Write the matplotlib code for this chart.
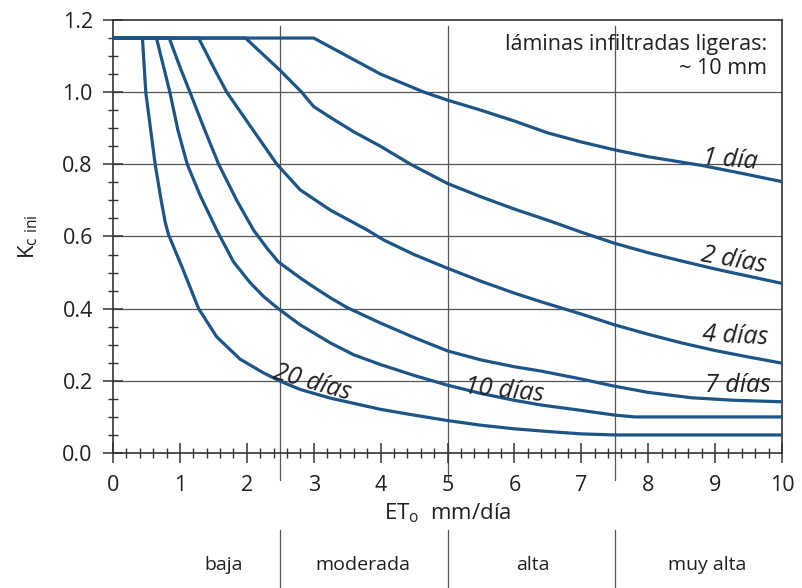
import matplotlib
matplotlib.use("Agg")
import matplotlib.pyplot as plt
from matplotlib.ticker import MultipleLocator

plt.rcParams['font.family'] = ['Open Sans', 'DejaVu Sans']
plt.rcParams['mathtext.fontset'] = 'custom'
plt.rcParams['mathtext.rm'] = 'Open Sans'

# ---- data ----
x_1 = [0, 3.0, 3.5, 4.0, 4.65, 5.0, 5.5, 6.0, 6.5, 7.0, 7.5, 8.0, 8.8, 9.4, 10]
y_1 = [1.15, 1.15, 1.10, 1.05, 1.0, 0.978, 0.95, 0.92, 0.887, 0.862, 0.84, 0.821, 0.797, 0.775, 0.752]

x_2 = [0, 1.98, 2.5, 2.82, 3.0, 3.25, 3.6, 4.0, 4.45, 5.0, 5.5, 6.0, 6.5, 7.0, 7.5, 8.0, 8.5, 9.0, 9.5, 10]
y_2 = [1.15, 1.15, 1.06, 1.0, 0.96, 0.93, 0.89, 0.85, 0.80, 0.747, 0.71, 0.676, 0.645, 0.612, 0.581,
       0.555, 0.532, 0.51, 0.49, 0.47]

x_4 = [0, 1.28, 1.5, 1.70, 2.0, 2.45, 2.8, 3.25, 3.8, 4.05, 4.5, 5.0, 5.5, 6.0, 6.4, 7.0, 7.5, 8.0,
       8.5, 9.0, 9.5, 10]
y_4 = [1.15, 1.15, 1.07, 1.0, 0.92, 0.80, 0.729, 0.673, 0.618, 0.59, 0.55, 0.512, 0.476, 0.443,
       0.419, 0.385, 0.355, 0.329, 0.305, 0.284, 0.266, 0.249]

x_7 = [0, 0.84, 1.0, 1.15, 1.35, 1.58, 1.85, 2.10, 2.3, 2.47, 2.8, 3.0, 3.25, 3.5, 4.0, 4.5, 5.0,
       5.5, 6.0, 6.4, 7.0, 7.5, 8.0, 8.65, 9.3, 10]
y_7 = [1.15, 1.15, 1.07, 1.0, 0.905, 0.80, 0.70, 0.618, 0.568, 0.53, 0.485, 0.46, 0.43, 0.403, 0.36,
       0.32, 0.283, 0.258, 0.239, 0.227, 0.205, 0.185, 0.168, 0.153, 0.146, 0.142]

x_10 = [0, 0.65, 0.85, 0.97, 1.11, 1.3, 1.55, 1.80, 2.05, 2.25, 2.47, 2.8, 3.25, 3.6, 4.0, 4.5, 5.0,
        5.5, 6.0, 6.4, 7.0, 7.5, 7.8, 10]
y_10 = [1.15, 1.15, 1.0, 0.895, 0.80, 0.715, 0.618, 0.530, 0.472, 0.434, 0.40, 0.355, 0.305, 0.272,
        0.245, 0.215, 0.188, 0.165, 0.146, 0.133, 0.118, 0.105, 0.10, 0.10]

x_20 = [0, 0.44, 0.49, 0.56, 0.63, 0.72, 0.78, 0.83, 0.92, 1.05, 1.28, 1.55, 1.90, 2.25, 2.5, 2.8,
        3.25, 4.0, 4.5, 5.0, 5.5, 6.0, 6.54, 7.0, 7.5, 10]
y_20 = [1.15, 1.15, 1.0, 0.9, 0.80, 0.70, 0.64, 0.605, 0.565, 0.507, 0.40, 0.322, 0.26, 0.222,
        0.199, 0.176, 0.152, 0.121, 0.105, 0.09, 0.077, 0.067, 0.059, 0.053, 0.05, 0.05]

curve_labels = ['1 día', '2 días', '4 días', '7 días', '10 días', '20 días']
categories = ['baja', 'moderada', 'alta', 'muy alta']
category_bounds = [2.5, 5.0, 7.5]

# ---- layout / style ----
label_pos = [(9.22, 0.812, -5), (9.28, 0.535, -10), (9.30, 0.324, -3),
             (9.34, 0.188, 0), (5.85, 0.172, -6), (2.97, 0.195, -16)]
category_x = [1.65, 3.73, 6.27, 8.88]
blue = '#1c5586'
ink = '#231f20'

fig = plt.figure(figsize=(8.02, 5.88), dpi=100)
ax = fig.add_axes([113 / 802, 1 - 453 / 588, (782 - 113) / 802, (453 - 20) / 588])

ax.set_xlim(0, 10)
ax.set_ylim(0, 1.2)

# grid
for yv in [0.2, 0.4, 0.6, 0.8, 1.0]:
    ax.axhline(yv, color='#555555', lw=0.9, zorder=1)
for xv in category_bounds:
    ax.axvline(xv, ymin=-0.062, ymax=0.985, color='#555555', lw=0.9, zorder=1, clip_on=False)
    ax.axvline(xv, ymin=-0.312, ymax=-0.178, color='#555555', lw=0.9, clip_on=False)

for xs, ys in [(x_1, y_1), (x_2, y_2), (x_4, y_4), (x_7, y_7), (x_10, y_10), (x_20, y_20)]:
    ax.plot(xs, ys, color=blue, lw=2.3, solid_joinstyle='round', solid_capstyle='butt', zorder=3)

for lab, (lx, ly, rot) in zip(curve_labels, label_pos):
    ax.text(lx, ly, lab, fontsize=18, style='italic', color=ink,
            ha='center', va='center', rotation=rot, zorder=4)

ax.text(0.978, 0.968, 'láminas infiltradas ligeras:\n~ 10 mm', transform=ax.transAxes,
        ha='right', va='top', fontsize=15.5, color=ink, linespacing=1.17)

for cat, cx in zip(categories, category_x):
    ax.text(cx, -0.259, cat, transform=ax.get_xaxis_transform(), ha='center', va='center',
            fontsize=14, color=ink)

# ticks
ax.xaxis.set_major_locator(MultipleLocator(1))
ax.xaxis.set_minor_locator(MultipleLocator(0.2))
ax.yaxis.set_major_locator(MultipleLocator(0.2))
ax.yaxis.set_minor_locator(MultipleLocator(0.05))
ax.yaxis.set_major_formatter(matplotlib.ticker.FormatStrFormatter('%.1f'))
ax.tick_params(which='major', direction='inout', length=15, width=1.1, color='#333333',
               labelsize=15.5, labelcolor=ink)
ax.tick_params(axis='x', which='major', pad=8)
ax.tick_params(axis='y', which='major', pad=7)
ax.tick_params(which='minor', direction='inout', length=7, width=1.0, color='#333333')
ax.tick_params(top=False, right=False, which='both')

for s in ax.spines.values():
    s.set_color('#333333')
    s.set_linewidth(1.2)

ax.set_xlabel(r'ET$_{\mathregular{o}}$  mm/día', fontsize=16, color=ink, labelpad=4)
ax.set_ylabel(r'K$_{\mathregular{c\ ini}}$', fontsize=16, color=ink, labelpad=16)

fig.savefig('out.png', dpi=100)
